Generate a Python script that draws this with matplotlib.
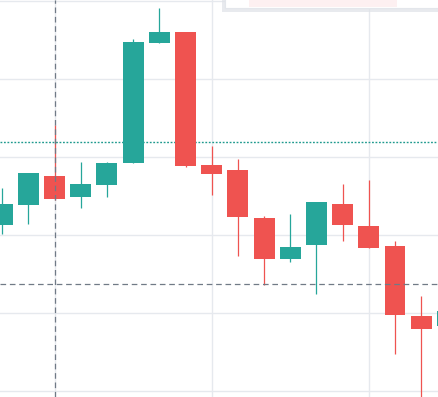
import matplotlib
matplotlib.use("Agg")
import matplotlib.pyplot as plt
from matplotlib.patches import Rectangle
import numpy as np

# candle data (index, open, high, low, close)
idx = np.arange(18)
opens = [121.36, 123.92, 127.64, 124.95, 126.49, 129.31, 144.69, 146.06, 129.01,
         128.37, 122.22, 116.96, 118.79, 124.01, 121.19, 118.63, 109.65, 108.41]
highs = [126.06, 128.00, 134.14, 129.44, 129.44, 145.17, 149.18, 146.06, 131.49,
         129.74, 122.47, 122.69, 124.27, 126.58, 127.09, 119.27, 112.22, 110.50]
lows = [120.17, 121.49, 124.53, 123.54, 124.91, 129.31, 144.69, 128.79, 125.17,
        117.38, 113.59, 116.58, 112.51, 119.27, 118.41, 104.82, 98.90, 107.50]
closes = [124.01, 127.99, 124.65, 126.62, 129.27, 144.78, 146.06, 128.92, 127.90,
          122.38, 116.96, 118.50, 124.27, 121.36, 118.41, 109.82, 108.03, 110.29]

green_level = 131.92
cross_price = 113.72
cross_index = 2

up_col = '#26a69a'
down_col = '#ef5350'

fig = plt.figure(figsize=(4.39, 3.97), dpi=100)
ax = fig.add_axes([0, 0, 1, 1])

o = np.array(opens)
c = np.array(closes)
cols = [up_col if cc >= oo else down_col for oo, cc in zip(o, c)]

ax.vlines(idx, lows, highs, colors=cols, linewidth=0.9, zorder=3)
ax.bar(idx, np.abs(c - o), bottom=np.minimum(o, c), width=0.8,
       color=cols, linewidth=0, zorder=4)

# grid
ax.set_yticks(np.arange(100, 151, 10))
ax.set_xticks([2, 8, 14])
ax.grid(True, color='#e6e9ee', linewidth=1.0, zorder=0)
ax.tick_params(length=0, labelbottom=False, labelleft=False)
for s in ax.spines.values():
    s.set_visible(False)

ax.axhline(green_level, color='#1f9a8e', linewidth=1.0, linestyle=(0, (1.3, 1.2)), zorder=2)
ax.axhline(cross_price, color='#707a86', linewidth=0.9, linestyle=(0, (4.5, 3)), zorder=5)
ax.axvline(cross_index, color='#707a86', linewidth=0.9, linestyle=(0, (4.5, 3)), zorder=5)

ax.set_xlim(-0.085, 16.68)
ax.set_ylim(99.27, 150.17)

# panel box peeking in at the top
shadow = Rectangle((0.505, 0.970), 0.6, 0.05, transform=ax.transAxes,
                   facecolor='#dfe2e8', edgecolor='none', alpha=0.7, zorder=6)
ax.add_patch(shadow)
box = Rectangle((0.5125, 0.98), 0.6, 0.05, transform=ax.transAxes,
                facecolor='white', edgecolor='#e3e6eb', linewidth=0.8, zorder=7)
ax.add_patch(box)
pink = Rectangle((0.567, 0.983), 0.337, 0.05, transform=ax.transAxes,
                 facecolor='#fdf0f1', edgecolor='none', zorder=8)
ax.add_patch(pink)

fig.savefig('out.png', dpi=100)
